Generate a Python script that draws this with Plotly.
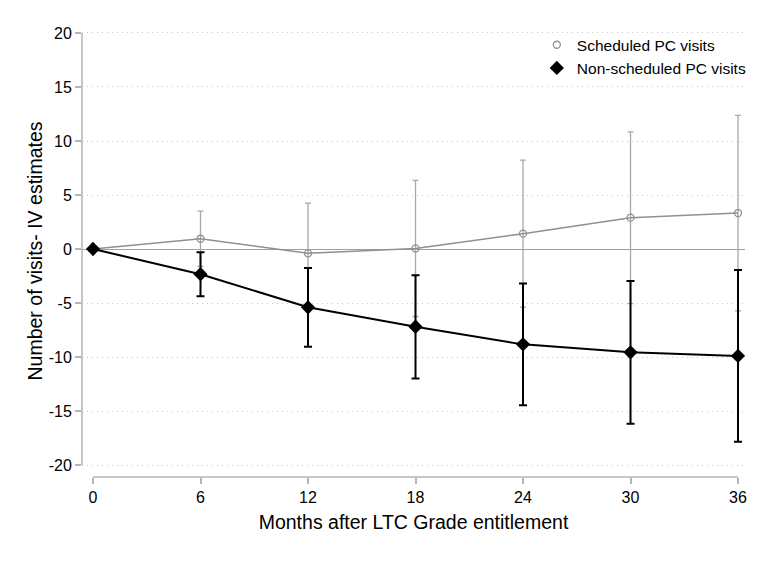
import plotly.graph_objects as go

months = [0, 6, 12, 18, 24, 30, 36]
sched = [0, 0.95, -0.4, 0.05, 1.42, 2.9, 3.33]
sched_err = [0, 2.55, 4.65, 6.3, 6.8, 7.95, 9.05]
nonsched = [0, -2.33, -5.4, -7.2, -8.83, -9.57, -9.9]
nonsched_err = [0, 2.04, 3.65, 4.78, 5.63, 6.6, 7.95]
yticks = [-20, -15, -10, -5, 0, 5, 10, 15, 20]

FONT = "Liberation Sans, Arial, sans-serif"
GRAY = "#909090"
EGRAY = "#a8a8a8"

fig = go.Figure()

fig.add_trace(go.Scatter(
    x=months, y=sched, mode="lines+markers", showlegend=False,
    line=dict(color=GRAY, width=1.5),
    marker=dict(symbol="circle-open", size=7, color=GRAY, line=dict(width=1.3)),
    error_y=dict(type="data", array=sched_err, color=EGRAY, thickness=1.3, width=3),
))
fig.add_trace(go.Scatter(
    x=months, y=nonsched, mode="lines+markers", showlegend=False,
    line=dict(color="black", width=2),
    marker=dict(symbol="diamond", size=11, color="black"),
    error_y=dict(type="data", array=nonsched_err, color="black", thickness=2, width=4),
))
# legend entries (markers only)
fig.add_trace(go.Scatter(
    x=[None], y=[None], mode="markers", name="Scheduled PC visits",
    marker=dict(symbol="circle-open", size=7, color=GRAY, line=dict(width=1.3)),
))
fig.add_trace(go.Scatter(
    x=[None], y=[None], mode="markers", name="Non-scheduled PC visits",
    marker=dict(symbol="diamond", size=11, color="black"),
))

# Stata-style detached axis lines
fig.add_shape(type="line", xref="paper", yref="y", x0=0, x1=0, y0=-20, y1=20,
              line=dict(color="#b5b5b5", width=1.5))
fig.add_shape(type="line", xref="x", yref="paper", x0=0, x1=36, y0=0, y1=0,
              line=dict(color="#b5b5b5", width=1.5))

fig.update_layout(
    width=768, height=563,
    margin=dict(l=82, r=23, t=25, b=86),
    paper_bgcolor="white", plot_bgcolor="white",
    font=dict(family=FONT, size=16, color="black"),
    legend=dict(x=0.686, y=0.993, xanchor="left", yanchor="top",
                font=dict(size=15.5, color="black"), bgcolor="rgba(0,0,0,0)",
                itemwidth=30, tracegroupgap=0),
)
fig.update_xaxes(
    range=[-0.614, 36.39], tickvals=months, ticktext=[str(m) for m in months],
    showgrid=False, zeroline=False, showline=False,
    ticks="outside", ticklen=6, tickcolor="#b5b5b5", tickwidth=1.5,
    tickfont=dict(size=16),
    title=dict(text="Months after LTC Grade entitlement", font=dict(size=19.5), standoff=10),
)
fig.update_yaxes(
    range=[-21.11, 20.74], tickvals=yticks, ticktext=[str(v) for v in yticks],
    showgrid=True, gridcolor="#c4c4c4", griddash="1px,4px", gridwidth=1,
    zeroline=True, zerolinecolor="#a0a0a0", zerolinewidth=1.2,
    showline=False, ticks="outside", ticklen=6, tickcolor="#b5b5b5", tickwidth=1.5,
    tickfont=dict(size=16),
    title=dict(text="Number of visits- IV estimates", font=dict(size=19.5), standoff=0),
)

fig.write_html("out.html")
